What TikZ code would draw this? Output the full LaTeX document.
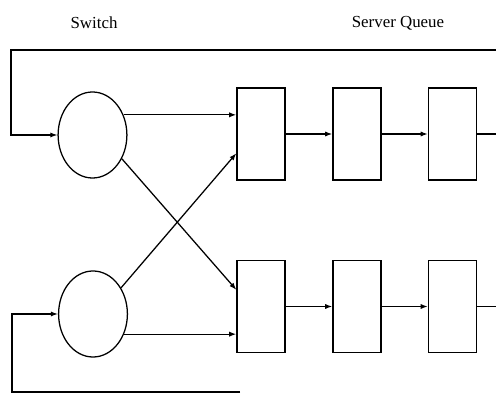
\documentclass[tikz,border=0pt]{standalone}
\usepackage{fontspec}
\setmainfont{Liberation Serif}
\usetikzlibrary{shapes.geometric,arrows.meta}

\begin{document}
\begin{tikzpicture}[x=0.025cm,y=-0.025cm,line width=0.9pt,
		>={Latex[length=1.8mm,width=1.3mm]},
		switchnode/.style={draw,ellipse,minimum width=1.72cm,minimum height=2.15cm,inner sep=0pt},
		queuebox/.style={draw,rectangle,minimum width=1.2cm,minimum height=2.3cm,inner sep=0pt},
		title/.style={font=\fontsize{12}{14}\selectfont}]
		\useasboundingbox (0,0) rectangle (496,394);
		
		% Titles
		\node[title] (switchlbl) at (94,23) {Switch};
		\node[title] (queuelbl) at (398,23) {Server Queue};
		
		% The two switches
		\node[switchnode] (sw1) at (92.5,135) {};
		\node[switchnode] (sw2) at (93,314) {};
		
		% Server queues, two rows of three boxes
		\foreach \c/\x in {1/261,2/357,3/452.5} {
			\node[queuebox] (q1\c) at (\x,134) {};
			\node[queuebox] (q2\c) at (\x,306.5) {};
		}
		
		% Free ends of the lines
		\coordinate (out1) at (496,134);
		\coordinate (out2) at (496,306.5);
		\coordinate (fb1r) at (496,50);
		\coordinate (fb1l) at (11,50);
		\coordinate (fb2r) at (240,392);
		\coordinate (fb2l) at (12,392);
		
		% Feedback into the switches
		\draw[->] (fb1r) -- (fb1l) |- (sw1.west);
		\draw[->] (fb2r) -- (fb2l) |- (sw2.west);
		
		% Switch outputs
		\draw[->] (sw1.33) -- (sw1.33 -| q11.west);
		\draw[->] (sw2.-33) -- (sw2.-33 -| q21.west);
		\draw[->] (sw1.-39) -- (q21.146);
		\draw[->] (sw2.43) -- (q11.218);
		
		% Along each queue
		\foreach \r in {1,2} {
			\draw[->] (q\r1) -- (q\r2);
			\draw[->] (q\r2) -- (q\r3);
			\draw (q\r3) -- (out\r);
		}
	\end{tikzpicture}
\end{document}
